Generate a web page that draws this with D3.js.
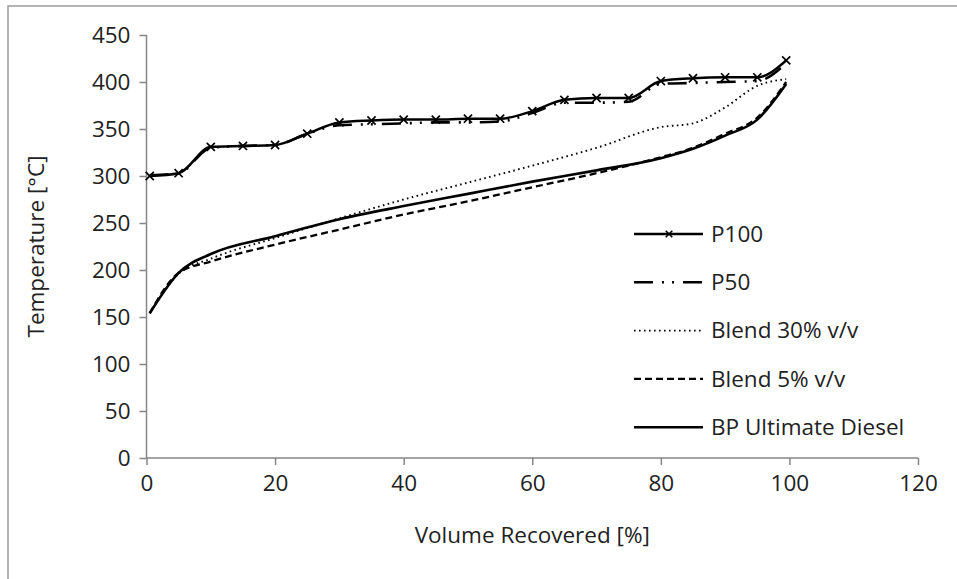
<!DOCTYPE html>
<html>
<head>
<meta charset="utf-8">
<script src="https://cdn.jsdelivr.net/npm/d3@7"></script>
<style>
  body { margin: 0; background: #fff; }
  text { font-family: "Open Sans", sans-serif; fill: #222; }
</style>
</head>
<body>
<div id="d3-container"></div>
<script>
// volume recovered points for the pyrolysis oils (markers every 5 %)
const volP = [0.5, 5, 10, 15, 20, 25, 30, 35, 40, 45, 50, 55, 60, 65, 70, 75, 80, 85, 90, 95, 99.5];
const p100 = [300, 303, 331, 332, 333, 345, 357, 359, 360, 360, 361, 361, 369, 381, 383, 383, 401, 404, 405, 405, 423];
const p50  = [301, 303, 330, 332, 333, 345, 354, 355, 356, 357, 357, 358, 367, 378, 378, 379, 398, 399, 400, 401, 420];

// volume recovered points for the blends and the diesel
const volD = [0.5, 5, 10, 20, 30, 40, 50, 60, 70, 80, 85, 90, 95, 99.5];
const blend30 = [154, 196, 212, 234, 255, 275, 293, 311, 330, 352, 356, 373, 396, 403];
const blend5  = [154, 197, 209, 227, 243, 259, 273, 288, 303, 320, 330, 345, 362, 400];
const bpDiesel = [154, 197, 217, 236, 254, 268, 281, 294, 306, 319, 329, 343, 360, 398];

const seriesNames = ["P100", "P50", "Blend 30% v/v", "Blend 5% v/v", "BP Ultimate Diesel"];
const xTicks = [0, 20, 40, 60, 80, 100, 120];
const yTicks = [0, 50, 100, 150, 200, 250, 300, 350, 400, 450];

document.addEventListener("DOMContentLoaded", function() {
  chart();
});

function chart() {
  const width = 957;
  const height = 579;
  const margin = { top: 35, bottom: 121, left: 146.5, right: 39 };
  const fs = "22.5px";

  const svg = d3.select('#d3-container')
    .append('svg')
    .attr('width', width)
    .attr('height', height);

  // outer frame (only top and left visible)
  svg.append("rect")
    .attr("x", 8).attr("y", 6)
    .attr("width", 1000).attr("height", 1000)
    .attr("fill", "none")
    .attr("stroke", "#9a9a9a")
    .attr("stroke-width", 1.5);

  const x = d3.scaleLinear()
    .domain([0, 120])
    .range([margin.left, width - margin.right]);

  const y = d3.scaleLinear()
    .domain([0, 450])
    .range([height - margin.bottom, margin.top]);

  const series = [
    { name: seriesNames[0], xs: volP, ys: p100, dash: null, width: 2.5, marker: true },
    { name: seriesNames[1], xs: volP, ys: p50, dash: "19,9,2,8,2,9", width: 2.6, marker: false },
    { name: seriesNames[2], xs: volD, ys: blend30, dash: "1.6,3.4", width: 1.9, marker: false },
    { name: seriesNames[3], xs: volD, ys: blend5, dash: "7,4", width: 2.3, marker: false },
    { name: seriesNames[4], xs: volD, ys: bpDiesel, dash: null, width: 2.6, marker: false }
  ];

  function yAxis(g) {
    g.attr("transform", `translate(${margin.left},0)`)
      .call(d3.axisLeft(y).tickValues(yTicks).tickSize(7).tickPadding(9))
      .attr("font-size", fs)
      .attr("font-family", null);
  }

  function xAxis(g) {
    g.attr("transform", `translate(0,${height - margin.bottom})`)
      .call(d3.axisBottom(x).tickValues(xTicks).tickSize(7).tickPadding(10))
      .attr("font-size", fs)
      .attr("font-family", null);
  }

  const gy = svg.append("g").call(yAxis);
  const gx = svg.append("g").call(xAxis);
  svg.selectAll(".domain, .tick line")
    .attr("stroke", "#868686")
    .attr("stroke-width", 1.5);
  gy.selectAll(".domain").attr("d", `M0,${y(450)}V${y(0)}`);
  gx.selectAll(".domain").attr("d", `M${x(0)},0H${x(120)}`);
  svg.selectAll(".tick text").attr("fill", "#222").attr("dy", "0.35em");
  gx.selectAll(".tick text").attr("dy", "0.71em");

  const line = d3.line()
    .x(d => x(d[0]))
    .y(d => y(d[1]))
    .curve(d3.curveMonotoneX);

  const plot = svg.append("g");
  series.slice().reverse().forEach(s => {
    const pts = s.xs.map((v, i) => [v, s.ys[i]]);
    plot.append("path")
      .datum(pts)
      .attr("fill", "none")
      .attr("stroke", "#000")
      .attr("stroke-width", s.width)
      .attr("stroke-dasharray", s.dash)
      .attr("d", line);
    if (s.marker) {
      plot.append("g")
        .selectAll("path")
        .data(pts)
        .join("path")
        .attr("d", d3.symbol(d3.symbolTimes, 45))
        .attr("transform", d => `translate(${x(d[0])},${y(d[1])})`)
        .attr("fill", "none")
        .attr("stroke", "#000")
        .attr("stroke-width", 1.7);
    }
  });

  // legend
  const legend = svg.append("g")
    .selectAll("g")
    .data(series)
    .join("g")
    .attr("transform", (d, i) => `translate(634,${234 + i * 48.3})`);

  legend.append("line")
    .attr("x1", 0).attr("x2", 69)
    .attr("stroke", "#000")
    .attr("stroke-width", d => d.width)
    .attr("stroke-dasharray", d => d.dash);

  legend.filter(d => d.marker)
    .append("path")
    .attr("d", d3.symbol(d3.symbolTimes, 30))
    .attr("transform", "translate(35,0)")
    .attr("fill", "none")
    .attr("stroke", "#000")
    .attr("stroke-width", 1.6);

  legend.append("text")
    .attr("x", 77)
    .attr("dy", "0.35em")
    .attr("font-size", fs)
    .text(d => d.name);

  // axis titles
  svg.append("text")
    .attr("x", (x(0) + x(120)) / 2)
    .attr("y", 535)
    .attr("dy", "0.35em")
    .attr("text-anchor", "middle")
    .attr("font-size", fs)
    .text("Volume Recovered [%]");

  svg.append("text")
    .attr("transform", `translate(36,${(y(0) + y(450)) / 2}) rotate(-90)`)
    .attr("dy", "0.35em")
    .attr("text-anchor", "middle")
    .attr("font-size", fs)
    .text("Temperature [°C]");

  svg.node();
}
</script>
</body>
</html>
